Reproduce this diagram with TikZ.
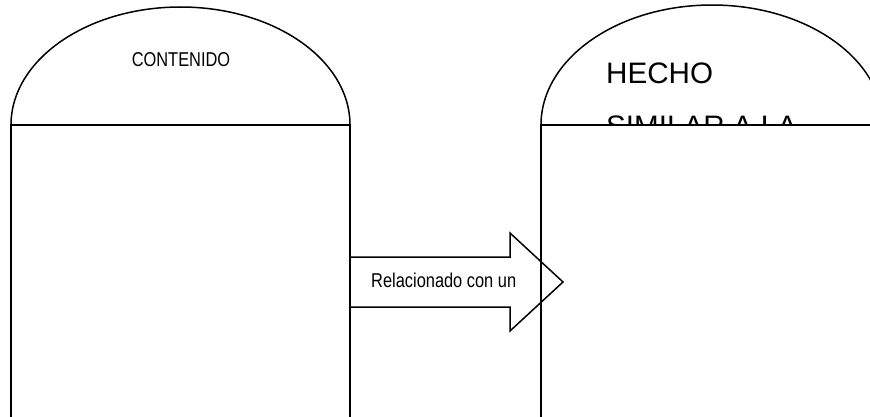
\documentclass[tikz,border=0pt]{standalone}
\usepackage{fontspec}
\setmainfont{Liberation Sans}
\newfontfamily\narrowfont[FakeStretch=0.82]{Liberation Sans}
\begin{document}
\begin{tikzpicture}[x=1pt,y=1pt,
  outline/.style={draw=black,line width=1.5pt,fill=white},
  narrowtext/.style={font=\narrowfont\fontsize{20}{24}\selectfont,inner sep=0pt},
  bigtext/.style={font=\fontsize{29.6}{52}\selectfont,inner sep=0pt}]
\useasboundingbox (0,0) rectangle (870,416);
\clip (0,0) rectangle (870,416);
% left shape
\draw[outline] (11,291) arc[start angle=180,end angle=0,x radius=169.5,y radius=118] -- cycle;
\draw[outline] (11,291) rectangle (350,-10);
\node[narrowtext,anchor=base] (contenido) at (181,349) {CONTENIDO};
% right shape
\draw[outline] (541,291) arc[start angle=180,end angle=0,x radius=171,y radius=120] -- cycle;
\node[bigtext,anchor=base west] (hecho) at (606,332) {HECHO};
\node[bigtext,anchor=base west] (similar) at (606,280) {SIMILAR A LA};
\draw[outline] (541,291) rectangle (880,-10);
% block arrow
\coordinate (a1) at (350,159);
\coordinate (a2) at (510,159);
\coordinate (a3) at (510,183);
\coordinate (a4) at (563,134);
\coordinate (a5) at (510,85);
\coordinate (a6) at (510,109);
\coordinate (a7) at (350,109);
\draw[black,line width=1.5pt,line join=miter] (a1) -- (a2) -- (a3) -- (a4) -- (a5) -- (a6) -- (a7) -- cycle;
\node[narrowtext,anchor=base west] (rel) at (371,129) {Relacionado con un};
\end{tikzpicture}
\end{document}
